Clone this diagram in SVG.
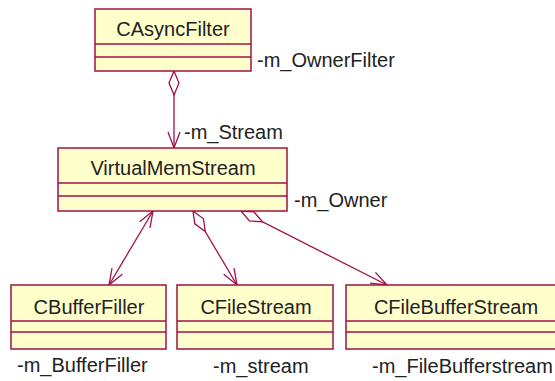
<svg xmlns="http://www.w3.org/2000/svg" width="555" height="381" viewBox="0 0 555 381">
  <style>
    .box { fill: #FFFFCC; stroke: #A0104A; stroke-width: 1.5; }
    .div { stroke: #A0104A; stroke-width: 1.5; }
    .name { font-family: "Liberation Sans", Arial, sans-serif; font-size: 20px; fill: #222; text-anchor: middle; }
    .role { font-family: "Liberation Sans", Arial, sans-serif; font-size: 20px; fill: #222; }
    .link { fill: none; stroke: #A0104A; stroke-width: 1.3; }
  </style>
  <defs>
    <marker id="open" markerUnits="userSpaceOnUse" markerWidth="20" markerHeight="16" viewBox="-18 -8 20 16" refX="0" refY="0" orient="auto-start-reverse">
      <path d="M-16,-6 L0,0 L-16,6" fill="none" stroke="#A0104A" stroke-width="1.3"/>
    </marker>
    <marker id="diamond" markerUnits="userSpaceOnUse" markerWidth="28" markerHeight="14" viewBox="-2 -7 28 14" refX="0" refY="0" orient="auto">
      <path d="M0,0 L12,-5 L24,0 L12,5 Z" fill="#FFFFFF" stroke="#A0104A" stroke-width="1.3"/>
    </marker>
  </defs>

  <!-- associations -->
  <g id="connectors">
    <line class="link" x1="174" y1="71" x2="174" y2="148" marker-start="url(#diamond)" marker-end="url(#open)"/>
    <line class="link" x1="153" y1="211" x2="109" y2="285" marker-start="url(#open)" marker-end="url(#open)"/>
    <line class="link" x1="193" y1="211" x2="237" y2="285" marker-start="url(#diamond)" marker-end="url(#open)"/>
    <line class="link" x1="241" y1="211" x2="387" y2="285" marker-start="url(#diamond)" marker-end="url(#open)"/>
  </g>

  <g id="CAsyncFilter">
    <rect class="box" x="95" y="9" width="156" height="62"/>
    <line class="div" x1="95" y1="44" x2="251" y2="44"/>
    <line class="div" x1="95" y1="57" x2="251" y2="57"/>
    <text class="name" x="173" y="36">CAsyncFilter</text>
  </g>

  <g id="VirtualMemStream">
    <rect class="box" x="58" y="148" width="229" height="63"/>
    <line class="div" x1="58" y1="183" x2="287" y2="183"/>
    <line class="div" x1="58" y1="196" x2="287" y2="196"/>
    <text class="name" x="173" y="175">VirtualMemStream</text>
  </g>

  <g id="CBufferFiller">
    <rect class="box" x="11" y="285" width="155" height="64"/>
    <line class="div" x1="11" y1="321" x2="166" y2="321"/>
    <line class="div" x1="11" y1="332" x2="166" y2="332"/>
    <text class="name" x="89" y="314">CBufferFiller</text>
  </g>

  <g id="CFileStream">
    <rect class="box" x="177" y="285" width="156" height="64"/>
    <line class="div" x1="177" y1="321" x2="333" y2="321"/>
    <line class="div" x1="177" y1="332" x2="333" y2="332"/>
    <text class="name" x="256" y="314">CFileStream</text>
  </g>

  <g id="CFileBufferStream">
    <rect class="box" x="346" y="285" width="220" height="64"/>
    <line class="div" x1="346" y1="321" x2="566" y2="321"/>
    <line class="div" x1="346" y1="332" x2="566" y2="332"/>
    <text class="name" x="456" y="314">CFileBufferStream</text>
  </g>

  <!-- role names -->
  <g id="roles">
    <text class="role" x="257" y="67">-m_OwnerFilter</text>
    <text class="role" x="184" y="139">-m_Stream</text>
    <text class="role" x="294" y="207">-m_Owner</text>
    <text class="role" x="17" y="372">-m_BufferFiller</text>
    <text class="role" x="213" y="373">-m_stream</text>
    <text class="role" x="372" y="373">-m_FileBufferstream</text>
  </g>
</svg>
